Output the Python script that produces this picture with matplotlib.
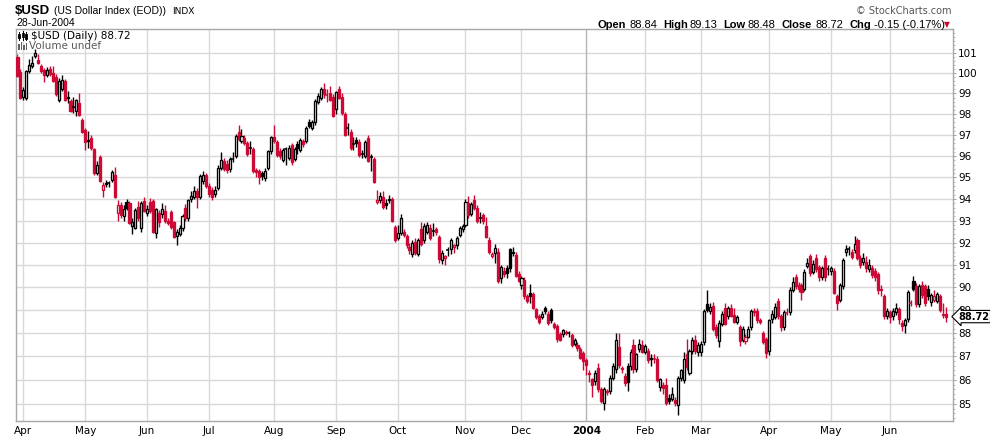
import numpy as np
import pandas as pd
import matplotlib
matplotlib.use('Agg')
import matplotlib.pyplot as plt
from matplotlib.patches import Rectangle
from matplotlib.transforms import blended_transform_factory

# Daily OHLC, $USD (US Dollar Index), 28-Mar-2003 .. 28-Jun-2004
opens = [
    100.80, 100.05,
    98.85, 98.80, 100.10, 100.35, 100.85, 100.65, 100.35, 100.15, 99.90, 100.20, 100.00, 99.80, 98.70, 99.20, 99.60, 98.85, 98.65, 98.30, 98.15, 98.55, 97.70,
    97.25, 96.70, 96.85, 96.35, 95.20, 95.95, 94.40, 94.75, 94.70, 94.90, 95.10, 93.35, 93.70, 93.20, 93.85, 93.80, 92.75, 92.65, 93.65, 92.65, 93.90,
    93.35, 93.85, 93.90, 92.45, 93.35, 93.30, 93.45, 93.00, 93.40, 92.95, 92.30, 92.40, 92.65, 93.60, 93.10, 94.00, 94.10, 94.35, 94.10, 94.85, 95.10,
    94.60, 94.40, 94.25, 94.50, 95.45, 95.75, 95.65, 95.40, 95.85, 96.00, 97.15, 96.70, 96.85, 96.60, 96.35, 96.35, 95.35, 95.30, 95.20, 94.95, 95.45, 96.25,
    96.90, 96.65, 96.25, 95.80, 96.30, 95.90, 96.50, 95.85, 96.55, 96.30, 96.70, 96.70, 97.60, 97.35, 97.60, 98.60, 98.80, 99.20, 98.90, 99.00, 98.85,
    98.25, 99.20, 98.85, 98.00, 97.30, 97.15, 96.55, 96.75, 96.65, 96.10, 96.00, 96.85, 95.95, 95.85, 93.85, 93.97, 94.10, 93.80, 94.00, 94.00, 92.70,
    92.20, 92.45, 92.50, 92.30, 91.80, 91.50, 92.05, 91.50, 92.60, 92.10, 92.50, 92.65, 92.55, 92.60, 92.25, 91.20, 91.30, 91.65, 91.70, 91.80, 91.90, 92.35, 92.60,
    92.80, 93.80, 93.30, 93.95, 93.60, 93.10, 93.25, 92.75, 92.10, 91.40, 91.55, 91.60, 90.40, 90.75, 90.85, 91.70, 91.60, 91.45, 90.60,
    90.10, 90.35, 89.60, 89.75, 89.70, 89.05, 88.75, 88.70, 89.10, 88.85, 89.00, 88.40, 88.30, 87.95, 87.95, 88.05, 88.00, 87.90, 87.55, 87.50, 87.30, 87.15,
    86.85, 86.30, 86.05, 85.95, 86.50, 85.60, 85.05, 85.55, 85.55, 86.10, 86.45, 87.40, 86.50, 86.15, 86.60, 86.60, 87.50, 86.45, 87.30, 87.50,
    87.20, 87.25, 86.95, 86.87, 86.90, 85.70, 85.80, 85.80, 85.25, 85.20, 85.15, 84.95, 86.10, 86.00, 87.10, 86.30, 87.25, 87.70, 87.20,
    87.20, 87.60, 89.25, 88.95, 89.20, 88.25, 87.65, 88.40, 89.10, 88.75, 89.10, 88.80, 88.50, 88.25, 87.70, 87.65, 87.85, 88.25, 88.95, 88.95, 88.55, 88.00, 87.75,
    87.25, 88.60, 88.70, 89.40, 88.75, 88.25, 88.90, 88.90, 89.90, 90.45, 90.10, 90.10, 89.95, 90.95, 91.40, 90.70, 91.30, 90.90, 90.45, 91.30, 90.80,
    90.75, 90.75, 89.60, 89.45, 90.05, 91.60, 91.70, 91.60, 91.65, 92.10, 91.30, 91.15, 91.15, 90.80, 90.85, 90.75, 90.60, 89.95, 89.60, 88.75,
    88.90, 88.75, 88.90, 89.05, 88.45, 88.35, 88.60, 89.30, 90.30, 90.05, 89.25, 90.10, 90.05, 89.95, 89.35, 89.45, 89.40, 89.60, 88.80, 88.84,
]
highs = [
    100.95, 100.20,
    99.30, 100.15, 100.70, 100.85, 101.20, 100.95, 100.45, 100.25, 100.30, 100.35, 100.35, 99.95, 99.75, 99.90, 99.70, 99.10, 98.75, 98.85, 98.75, 99.00, 97.80,
    97.35, 97.20, 97.00, 96.40, 95.75, 96.05, 94.80, 94.90, 94.85, 95.35, 95.50, 93.95, 93.85, 93.70, 94.00, 93.90, 93.10, 93.60, 93.90, 93.90, 94.10,
    93.70, 94.05, 94.00, 93.60, 93.50, 93.80, 93.70, 93.10, 93.50, 93.00, 92.60, 92.80, 93.30, 93.75, 94.00, 94.35, 94.60, 94.50, 95.15, 95.30, 95.20,
    94.75, 94.55, 94.60, 95.60, 96.20, 95.90, 95.80, 95.95, 96.20, 97.05, 97.50, 97.30, 97.00, 96.70, 96.70, 96.45, 95.45, 95.40, 95.30, 95.45, 96.30, 96.95,
    97.50, 96.75, 96.40, 96.40, 96.45, 96.50, 96.60, 96.45, 96.70, 96.85, 96.80, 97.45, 97.75, 97.70, 98.75, 99.00, 99.30, 99.50, 99.20, 99.35, 98.95,
    99.10, 99.35, 99.00, 98.10, 97.55, 97.30, 96.90, 96.90, 96.80, 96.30, 96.75, 97.00, 96.10, 95.95, 94.40, 94.30, 94.35, 94.00, 94.20, 94.10, 92.80,
    92.80, 93.30, 92.60, 92.40, 92.00, 92.10, 92.20, 92.20, 92.95, 92.90, 92.95, 92.85, 92.90, 92.70, 92.35, 91.65, 91.45, 91.80, 92.20, 91.95, 92.30, 92.75, 92.85,
    94.00, 94.15, 93.85, 94.20, 93.70, 93.40, 93.35, 93.15, 92.25, 91.60, 91.95, 91.75, 91.00, 90.90, 91.00, 91.75, 91.80, 91.60, 90.75,
    90.50, 90.45, 89.70, 90.15, 89.80, 89.10, 88.85, 88.95, 89.20, 88.95, 89.10, 88.50, 88.40, 88.05, 88.20, 88.15, 88.10, 88.00, 87.80, 87.60, 87.40, 87.25,
    86.95, 86.40, 86.10, 86.40, 86.70, 85.70, 85.70, 85.60, 86.20, 86.70, 88.00, 88.00, 86.60, 86.30, 86.70, 87.30, 87.75, 87.15, 87.75, 87.70,
    87.55, 87.35, 87.10, 87.10, 87.00, 86.10, 85.90, 86.10, 85.40, 85.70, 85.30, 86.15, 86.45, 87.20, 87.75, 87.30, 87.85, 87.90, 87.60,
    87.65, 89.05, 89.90, 89.30, 89.35, 88.40, 88.55, 88.95, 89.30, 89.20, 89.25, 89.10, 88.80, 88.35, 88.30, 87.95, 88.30, 89.05, 89.10, 89.10, 88.65, 88.10, 87.85,
    88.60, 89.00, 89.30, 89.55, 88.85, 89.00, 89.10, 90.00, 90.45, 90.60, 90.25, 90.20, 90.80, 91.30, 91.50, 91.20, 91.50, 91.00, 90.95, 91.45, 91.00,
    90.95, 90.85, 89.70, 90.20, 91.30, 91.90, 91.85, 91.70, 92.30, 92.20, 91.45, 91.55, 91.40, 91.25, 91.00, 90.85, 90.70, 90.10, 89.70, 89.10,
    89.00, 89.10, 89.30, 89.15, 88.55, 88.65, 89.90, 89.45, 90.50, 90.20, 90.15, 90.30, 90.15, 90.10, 89.75, 89.90, 89.80, 89.70, 89.30, 89.13,
]
lows = [
    99.80, 98.75,
    98.70, 98.70, 100.00, 100.25, 100.75, 100.45, 100.00, 99.55, 99.80, 99.85, 99.55, 98.90, 98.60, 99.10, 98.65, 98.55, 98.10, 98.05, 97.90, 97.90, 97.10,
    96.30, 96.40, 96.30, 95.10, 95.10, 94.80, 94.10, 94.55, 94.55, 94.80, 94.05, 93.00, 93.10, 93.00, 93.50, 92.85, 92.40, 92.60, 93.00, 92.50, 93.40,
    93.20, 93.35, 92.45, 92.20, 92.70, 93.10, 92.90, 92.80, 92.60, 92.20, 91.90, 92.30, 92.55, 93.00, 93.00, 93.85, 94.00, 93.60, 94.00, 94.70, 94.50,
    94.10, 93.95, 94.10, 94.40, 95.35, 95.30, 95.20, 95.25, 95.70, 95.90, 96.70, 96.60, 96.50, 96.00, 96.10, 95.20, 95.00, 94.70, 94.90, 94.85, 95.35, 96.10,
    96.60, 95.95, 95.85, 95.70, 95.60, 95.80, 95.60, 95.75, 96.10, 96.20, 96.45, 96.60, 97.35, 97.25, 97.50, 98.50, 98.70, 98.80, 98.60, 98.65, 97.85,
    98.00, 98.75, 97.95, 96.95, 97.00, 96.30, 96.30, 96.45, 95.95, 95.90, 95.90, 95.70, 95.30, 94.75, 93.75, 93.80, 93.55, 93.55, 93.80, 92.95, 92.05,
    92.10, 92.35, 92.25, 91.75, 91.50, 91.35, 91.45, 91.40, 91.85, 92.00, 92.40, 92.10, 92.30, 92.35, 91.10, 91.05, 91.00, 91.40, 91.50, 91.55, 91.70, 92.25, 92.50,
    92.70, 93.10, 93.20, 93.50, 92.90, 92.90, 92.85, 92.20, 91.50, 91.30, 91.10, 90.20, 90.20, 90.45, 90.40, 90.70, 91.40, 90.45, 90.25,
    89.95, 89.50, 89.30, 89.30, 89.05, 88.60, 88.40, 88.60, 88.85, 88.35, 88.45, 88.20, 87.60, 87.65, 87.85, 87.90, 87.85, 87.40, 87.45, 87.25, 86.90, 86.40,
    86.20, 85.90, 85.30, 85.80, 85.50, 85.05, 84.75, 85.35, 85.40, 86.00, 86.30, 86.50, 86.30, 85.75, 85.55, 86.40, 86.30, 86.35, 87.20, 87.15,
    87.10, 86.70, 86.60, 86.70, 85.90, 85.55, 85.40, 84.95, 85.00, 85.10, 84.90, 84.55, 85.95, 85.85, 86.40, 86.20, 87.10, 87.10, 87.00,
    87.00, 87.50, 88.90, 88.85, 88.10, 87.80, 87.40, 88.30, 88.35, 88.60, 88.70, 88.45, 88.40, 87.45, 87.60, 87.55, 87.80, 88.15, 88.75, 88.45, 88.40, 87.55, 86.95,
    87.05, 88.45, 88.60, 88.60, 88.10, 88.15, 88.80, 88.80, 89.80, 89.95, 89.80, 89.45, 89.85, 90.85, 90.50, 90.60, 90.70, 90.30, 90.35, 90.30, 90.55,
    90.55, 89.70, 89.00, 89.35, 89.95, 91.40, 91.45, 91.25, 91.55, 91.20, 90.85, 91.00, 90.70, 90.70, 90.40, 90.30, 89.70, 89.60, 88.60, 88.60,
    88.45, 88.55, 88.80, 88.40, 88.10, 88.00, 88.50, 89.20, 89.85, 89.15, 89.15, 89.55, 89.20, 89.45, 89.20, 89.35, 89.30, 88.90, 88.65, 88.48,
]
closes = [
    99.85, 98.80,
    99.15, 100.10, 100.40, 100.50, 101.00, 100.50, 100.10, 99.90, 100.15, 99.95, 99.60, 98.95, 99.60, 99.65, 98.70, 98.80, 98.15, 98.32, 98.70, 97.95, 97.15,
    96.65, 96.75, 96.40, 95.20, 95.60, 94.85, 94.65, 94.70, 94.72, 95.25, 94.10, 93.70, 93.25, 93.55, 93.60, 92.90, 92.95, 93.50, 93.10, 93.80, 93.45,
    93.55, 93.45, 92.50, 93.55, 92.95, 93.55, 93.00, 92.90, 92.70, 92.25, 92.50, 92.65, 93.20, 93.10, 93.95, 94.15, 94.35, 94.10, 95.05, 95.10, 94.60,
    94.25, 94.10, 94.40, 95.45, 95.80, 95.40, 95.35, 95.85, 95.88, 96.95, 96.80, 96.95, 96.60, 96.10, 96.37, 95.30, 95.25, 95.00, 95.05, 95.30, 96.25, 96.90,
    96.70, 96.05, 96.00, 96.30, 96.32, 96.40, 95.70, 96.35, 96.40, 96.75, 96.55, 97.35, 97.45, 97.60, 98.65, 98.90, 99.20, 98.95, 98.92, 98.70, 97.90,
    99.05, 98.80, 98.05, 97.00, 97.32, 96.40, 96.57, 96.60, 96.05, 96.12, 96.65, 95.75, 95.97, 94.80, 93.95, 94.15, 93.65, 93.70, 93.95, 93.00, 92.10,
    92.45, 93.10, 92.35, 91.90, 91.65, 92.00, 91.55, 92.10, 91.95, 92.75, 92.80, 92.20, 92.55, 92.50, 91.25, 91.55, 91.40, 91.65, 92.10, 91.90, 92.20, 92.65, 92.75,
    93.85, 93.25, 93.75, 93.60, 93.00, 93.12, 93.00, 92.25, 91.60, 91.50, 91.75, 90.30, 90.90, 90.60, 90.65, 90.85, 91.55, 90.50, 90.30,
    90.40, 89.60, 89.40, 89.60, 89.10, 88.70, 88.50, 88.85, 88.95, 88.45, 88.55, 88.25, 87.75, 87.72, 88.15, 88.00, 88.02, 87.50, 87.70, 87.35, 86.95, 86.80,
    86.65, 86.25, 85.80, 86.30, 85.60, 85.10, 85.60, 85.50, 86.10, 86.60, 87.70, 86.65, 86.45, 85.85, 85.90, 87.20, 86.45, 87.10, 87.55, 87.20,
    87.45, 86.85, 86.90, 86.88, 86.00, 86.02, 85.65, 85.05, 85.10, 85.40, 85.05, 86.10, 86.40, 86.90, 86.55, 87.25, 87.70, 87.25, 87.50,
    87.55, 88.95, 89.00, 89.15, 88.20, 87.90, 88.45, 88.85, 88.40, 89.10, 88.75, 88.50, 88.70, 87.65, 88.20, 87.85, 88.20, 88.95, 88.90, 88.55, 88.50, 87.60, 87.15,
    88.55, 88.85, 89.15, 88.75, 88.25, 88.90, 88.88, 89.90, 90.25, 90.05, 89.95, 89.80, 90.70, 91.10, 90.65, 91.05, 90.80, 90.45, 90.85, 90.45, 90.82,
    90.85, 89.75, 89.30, 90.10, 91.20, 91.70, 91.72, 91.35, 91.95, 91.30, 91.00, 91.30, 90.85, 91.00, 90.55, 90.45, 89.90, 89.88, 88.75, 88.95,
    88.70, 88.95, 89.10, 88.60, 88.30, 88.55, 89.80, 89.30, 89.95, 89.25, 90.05, 89.65, 89.30, 89.60, 89.65, 89.60, 89.70, 89.00, 88.85, 88.72,
]

holidays = ['2003-04-18', '2003-05-26', '2003-07-04', '2003-09-01', '2003-11-27',
            '2003-12-25', '2004-01-01', '2004-01-19', '2004-02-16', '2004-04-09',
            '2004-05-31']
month_labels = ['Apr', 'May', 'Jun', 'Jul', 'Aug', 'Sep', 'Oct', 'Nov', 'Dec',
                '2004', 'Feb', 'Mar', 'Apr', 'May', 'Jun']
price_ticks = list(range(85, 102))

days = pd.bdate_range('2003-03-28', '2004-06-28')
days = days[~days.isin(pd.to_datetime(holidays))]
assert len(days) == len(closes) == len(opens) == len(highs) == len(lows)

o = np.array(opens); h = np.array(highs); l = np.array(lows); c = np.array(closes)
x = np.arange(len(c))
month_pos = [i for i in range(1, len(days)) if days[i].month != days[i - 1].month]

RED = '#cc0a35'
GRID = '#d9d9d9'

fig = plt.figure(figsize=(9.9, 4.38), dpi=100)
ax = fig.add_axes([16 / 990, (438 - 421.3) / 438, (952.7 - 16) / 990, (421.3 - 29.3) / 438])
ax.set_yscale('log')
ax.set_xlim(-0.5, 317.3)
ax.set_ylim(84.27, 102.17)

# grid
for p in price_ticks:
    ax.axhline(p, color=GRID, lw=1, zorder=0)
for k, p in enumerate(month_pos):
    ax.axvline(p, color='#b4b4b4' if month_labels[k] == '2004' else GRID, lw=1, zorder=0)

# candles
up = np.r_[False, c[1:] >= c[:-1]]
bw = 0.7
for i in x:
    col = 'black' if up[i] else RED
    ax.vlines(i, l[i], h[i], color=col, lw=1.0, zorder=2)
    if abs(c[i] - o[i]) < 0.04:
        ax.hlines(c[i], i - bw / 2 - 0.15, i + bw / 2 + 0.15, color=col, lw=1.1, zorder=3)
        continue
    lo, hi = min(o[i], c[i]), max(o[i], c[i])
    face = col if c[i] < o[i] else 'white'
    ax.add_patch(Rectangle((i - bw / 2, lo), bw, hi - lo, facecolor=face,
                           edgecolor=col, lw=0.95, zorder=3))

# axes styling
for s in ax.spines.values():
    s.set_color('#a8a8a8')
    s.set_linewidth(1)
ax.yaxis.tick_right()
ax.set_yticks(price_ticks)
ax.set_yticklabels([str(p) for p in price_ticks])
ax.set_yticks(np.round(np.arange(84.4, 102.1, 0.2), 1), minor=True)
ax.yaxis.set_minor_formatter(plt.NullFormatter())
ax.tick_params(axis='y', which='major', length=2.5, width=0.6, color='#909090',
               pad=1.5, labelsize=7.5, labelcolor='black')
ax.tick_params(axis='y', which='minor', length=1.3, width=0.5, color='#a0a0a0')
ax.set_xticks(month_pos)
ax.set_xticklabels(month_labels)
ax.tick_params(axis='x', length=0, pad=3.5, labelsize=7.5)
for t in ax.get_xticklabels():
    if t.get_text() == '2004':
        t.set_fontweight('bold')

# last price marker on the right axis
tr = blended_transform_factory(ax.transAxes, ax.transData)
ax.text(1.006, c[-1], f'{c[-1]:.2f}', transform=tr, ha='left', va='center',
        fontsize=7, fontweight='bold',
        bbox=dict(boxstyle='larrow,pad=0.12', fc='white', ec='black', lw=0.8),
        clip_on=False, zorder=5)

# header texts
def fx(px):
    return px / 990

def fy(py):
    return 1 - py / 438

fig.text(fx(15), fy(11), '\\$USD', fontsize=9.5, fontweight='bold', va='center',
         family='Liberation Sans')
fig.text(fx(54), fy(11), '(US Dollar Index (EOD))', fontsize=7.5, va='center',
         family='Liberation Sans')
fig.text(fx(172), fy(11.5), 'INDX', fontsize=6.5, va='center')
fig.text(fx(16), fy(23.5), '28-Jun-2004', fontsize=7.5, va='center', family='Liberation Sans')
fig.text(fx(952), fy(11), '\u00a9 StockCharts.com', fontsize=7, ha='right', va='center',
         color='#555555')

header = [('Open', 597, True), ('88.84', 629, False), ('High', 663, True),
          ('89.13', 690, False), ('Low', 723, True), ('88.48', 748, False),
          ('Close', 782, True), ('88.72', 815, False), ('Chg', 850, True),
          ('-0.15 (-0.17%)', 874, False)]
for txt, px, bold in header:
    fig.text(fx(px), fy(24.5), txt, fontsize=8, va='center', family='Liberation Sans',
             fontweight='bold' if bold else 'normal')
fig.text(fx(944), fy(24.5), '\u25bc', fontsize=5.5, va='center', color=RED)

# in-chart legend
fig.text(fx(31), fy(36), '\\$USD (Daily) 88.72', fontsize=7.5, va='center')
fig.text(fx(29), fy(46), 'Volume undef', fontsize=7.5, va='center', color='#5a5a5a')
for px, y0, y1, b0, b1, fill in [(19, 32, 40, 34, 38, 'black'), (22.5, 31, 40, 33, 37, 'white'),
                                 (26, 32, 40, 34, 39, 'black')]:
    fig.add_artist(plt.Line2D([fx(px), fx(px)], [fy(y1), fy(y0)], color='black', lw=0.7))
    fig.add_artist(Rectangle((fx(px - 1), fy(b1)), 2 / 990, (b1 - b0) / 438,
                             transform=fig.transFigure, fc=fill, ec='black', lw=0.6))
for px, top in [(18, 44), (20.5, 42), (23, 45), (25.5, 43)]:
    fig.add_artist(Rectangle((fx(px), fy(50)), 1.8 / 990, (50 - top) / 438,
                             transform=fig.transFigure, fc='#606060', ec='none'))

fig.savefig('out.png', dpi=100)
